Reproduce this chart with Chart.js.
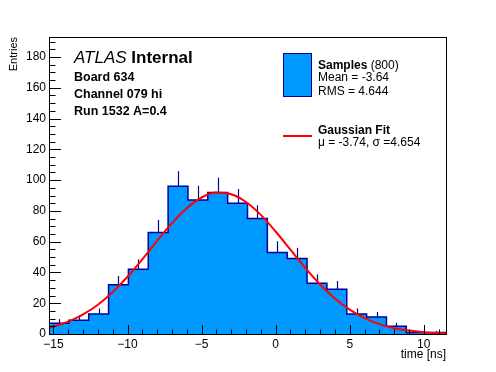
<!DOCTYPE html>
<html><head><meta charset="utf-8">
<script src="https://cdn.jsdelivr.net/npm/chart.js@4.4.1/dist/chart.umd.min.js"></script>
<style>html,body{margin:0;padding:0;background:#fff;overflow:hidden}canvas{display:block}</style>
</head><body>
<canvas id="c" width="496" height="372"></canvas>
<script>
// ---- data ----
const binEdges = [-15.3, -13.96, -12.62, -11.28, -9.94, -8.6, -7.26, -5.92, -4.58, -3.24, -1.9,
                  -0.56, 0.78, 2.12, 3.46, 4.8, 6.14, 7.48, 8.82, 10.16, 11.5];
const counts   = [7, 9, 13, 32, 42, 66, 96, 87, 92, 85, 75, 53, 49, 33, 29, 13, 11, 5, 1, 1];
const fitX = [-15.3, -15, -14, -13, -12, -11, -10, -9, -8, -7, -6, -5, -4, -3, -2, -1, 0,
              1, 2, 3, 4, 5, 6, 7, 8, 9, 10, 11, 11.5];
const fitY = [4.2, 4.9, 8.0, 12.7, 19.0, 27.3, 37.2, 48.5, 60.5, 72.0, 81.7, 88.7, 91.9, 90.8,
              85.8, 77.4, 66.6, 54.8, 43.0, 32.2, 23.1, 15.8, 10.3, 6.4, 3.8, 2.2, 1.2, 0.6, 0.4];
const xTickValues = [-15, -10, -5, 0, 5, 10];
const yTickValues = [0, 20, 40, 60, 80, 100, 120, 140, 160, 180];
const xRange = [-15.3, 11.5];
const yRange = [0, 193];
const xTitle = 'time [ns]';
const yTitle = 'Entries';
const infoLines = ['Board 634', 'Channel 079 hi', 'Run 1532 A=0.4'];
const legendHist = {name: 'Samples', extra: ' (800)', l1: 'Mean = -3.64', l2: 'RMS = 4.644'};
const legendFit = {name: 'Gaussian Fit', l1: '\u03bc = -3.74, \u03c3 =4.654'};

// ---- styles ----
const FILL = '#0099ff', LINE = '#000099', RED = '#ff0000';
const FONT = '"Liberation Sans", Arial, Helvetica, sans-serif';

const histPoints = counts.map((c, i) => ({x: binEdges[i], y: c}));
histPoints.push({x: binEdges[binEdges.length - 1], y: counts[counts.length - 1]});
const fitPoints = fitX.map((x, i) => ({x: x, y: fitY[i]}));

const fmt = v => (v < 0 ? '\u2212' + Math.abs(v) : String(v));

const errorBars = {
  id: 'errorBars',
  afterDatasetDraw(chart, args) {
    if (args.index !== 0) return;
    const {ctx, scales: {x, y}} = chart;
    ctx.save();
    ctx.strokeStyle = LINE; ctx.lineWidth = 1.2;
    counts.forEach((c, i) => {
      const cx = Math.round(x.getPixelForValue((binEdges[i] + binEdges[i + 1]) / 2)) + 0.5;
      ctx.beginPath();
      ctx.moveTo(cx, y.getPixelForValue(c));
      ctx.lineTo(cx, y.getPixelForValue(c + Math.sqrt(c)));
      ctx.stroke();
    });
    ctx.restore();
  }
};

const frame = {
  id: 'frame',
  afterDatasetsDraw(chart) {
    const {ctx, chartArea: a, scales: {x, y}} = chart;
    ctx.save();
    ctx.strokeStyle = '#000'; ctx.lineWidth = 1;
    ctx.beginPath();
    for (let v = Math.ceil(xRange[0]); v <= xRange[1]; v++) {
      const px = Math.round(x.getPixelForValue(v)) + 0.5;
      const len = (v % 5 === 0) ? 9 : 4.5;
      ctx.moveTo(px, a.bottom); ctx.lineTo(px, a.bottom - len);
    }
    for (let v = 0; v <= yRange[1]; v += 5) {
      const py = Math.round(y.getPixelForValue(v)) + 0.5;
      const len = (v % 20 === 0) ? 12 : 6.5;
      ctx.moveTo(a.left, py); ctx.lineTo(a.left + len, py);
    }
    ctx.stroke();
    ctx.strokeRect(Math.round(a.left) + 0.5, Math.round(a.top) + 0.5,
                   Math.round(a.right - a.left), Math.round(a.bottom - a.top));
    ctx.restore();
  },
  afterDraw(chart) {
    const {ctx, chartArea: a} = chart;
    ctx.save();
    ctx.fillStyle = '#000';
    ctx.textBaseline = 'alphabetic';
    ctx.font = '12px ' + FONT;
    ctx.textAlign = 'right';
    ctx.fillText(xTitle, a.right, 358);
    ctx.save();
    ctx.translate(16.5, a.top);
    ctx.rotate(-Math.PI / 2);
    ctx.font = '11px ' + FONT;
    ctx.textAlign = 'right';
    ctx.fillText(yTitle, 0, 0);
    ctx.restore();
    ctx.textAlign = 'left';
    ctx.font = 'italic 17px ' + FONT;
    ctx.fillText('ATLAS', 74, 63);
    const w = ctx.measureText('ATLAS ').width;
    ctx.font = 'bold 17px ' + FONT;
    ctx.fillText('Internal', 74 + w, 63);
    ctx.font = 'bold 12.5px ' + FONT;
    infoLines.forEach((t, i) => ctx.fillText(t, 74, 80.5 + i * 17.3));
    ctx.fillStyle = FILL;
    ctx.fillRect(283.5, 53.5, 28, 43);
    ctx.strokeStyle = LINE; ctx.lineWidth = 1;
    ctx.strokeRect(283.5, 53.5, 28, 43);
    ctx.fillStyle = '#000';
    ctx.font = 'bold 12px ' + FONT;
    ctx.fillText(legendHist.name, 318, 69);
    const w2 = ctx.measureText(legendHist.name).width;
    ctx.font = '12px ' + FONT;
    ctx.fillText(legendHist.extra, 318 + w2, 69);
    ctx.fillText(legendHist.l1, 318, 81);
    ctx.fillText(legendHist.l2, 318, 94.5);
    ctx.strokeStyle = RED; ctx.lineWidth = 2;
    ctx.beginPath(); ctx.moveTo(283, 136); ctx.lineTo(312, 136); ctx.stroke();
    ctx.font = 'bold 12px ' + FONT;
    ctx.fillText(legendFit.name, 318, 133.5);
    ctx.font = '12px ' + FONT;
    ctx.fillText(legendFit.l1, 318, 146);
    ctx.restore();
  }
};

new Chart(document.getElementById('c'), {
  type: 'line',
  data: {
    datasets: [
      {data: histPoints, stepped: 'before', fill: 'origin', backgroundColor: FILL,
       borderColor: LINE, borderWidth: 1.5, pointRadius: 0, order: 2},
      {data: fitPoints, fill: false, borderColor: RED, borderWidth: 2, pointRadius: 0,
       cubicInterpolationMode: 'monotone', order: 1}
    ]
  },
  options: {
    responsive: false, animation: false, events: [],
    layout: {padding: {top: 37, right: 50, left: 0, bottom: 0}},
    plugins: {legend: {display: false}, tooltip: {enabled: false}},
    scales: {
      x: {
        type: 'linear', min: xRange[0], max: xRange[1],
        grid: {display: false, drawTicks: false}, border: {display: false},
        afterBuildTicks: s => { s.ticks = xTickValues.map(v => ({value: v})); },
        afterFit: s => { s.height = 38; },
        ticks: {autoSkip: false, maxRotation: 0, padding: 3, color: '#000',
                font: {family: FONT, size: 12}, callback: v => fmt(v)}
      },
      y: {
        type: 'linear', min: yRange[0], max: yRange[1],
        grid: {display: false, drawTicks: false}, border: {display: false},
        afterBuildTicks: s => { s.ticks = yTickValues.map(v => ({value: v})); },
        afterFit: s => { s.width = 49; },
        ticks: {autoSkip: false, padding: 3, color: '#000',
                font: {family: FONT, size: 12}, callback: v => fmt(v)}
      }
    }
  },
  plugins: [errorBars, frame]
});
</script>
</body></html>
